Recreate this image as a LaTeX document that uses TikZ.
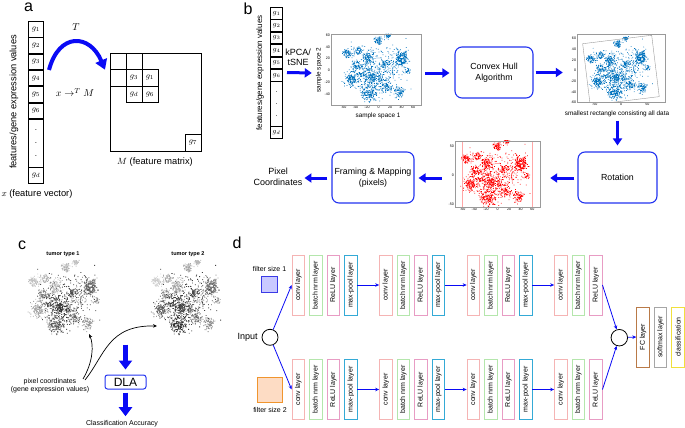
\documentclass[tikz,border=0pt]{standalone}
\usepackage{fontspec}
\setmainfont{Liberation Sans}
\usepackage{amsmath}
\usepackage{graphicx}
\usetikzlibrary{arrows.meta,positioning,calc}
\definecolor{ArrBlue}{HTML}{0A0AF5}
\definecolor{BoxBlue}{HTML}{2233F0}
\definecolor{DotBlue}{HTML}{0072BD}
\definecolor{AxGray}{HTML}{9A9A9A}
\definecolor{ConvC}{HTML}{F5B4B4}
\definecolor{BnC}{HTML}{B4E6AC}
\definecolor{ReluC}{HTML}{E89CC4}
\definecolor{PoolC}{HTML}{34AAD6}
\definecolor{FcC}{HTML}{B97A48}
\definecolor{SmC}{HTML}{A6A6A6}
\definecolor{ClsC}{HTML}{F0E03C}
\definecolor{FltA}{HTML}{C9C9FF}
\definecolor{FltAD}{HTML}{3A3AE6}
\definecolor{FltB}{HTML}{FDDCC4}
\definecolor{FltBD}{HTML}{F0952E}

\newcommand{\fsz}[1]{\fontsize{#1}{#1}\selectfont}
\newcommand{\vtxt}[1]{\rotatebox{90}{#1}}
% clustered 2-d embedding, same seed every time; one path per cluster
\newcommand{\tsnedots}[2]{%
  \pgfmathsetseed{1234}%
  \foreach \qx/\qy/\qs/\qn/\qa/\qb in {%
      -55/28/5/70/25/20, -36/33/4.5/55/30/35, -18/20/6.5/110/25/30,
      -39/7/5/70/50/45, -47/-15/7.5/140/35/60, -21/-7/9/140/70/75,
      -4/-15/9/120/80/70, -16/-38/9/170/65/80, 13/-29/6/70/55/50,
      36/-38/5.5/70/40/45, 39/21/8/190/60/55, 10/10/3.5/35/70/70,
      -1/50/4/55/30/35, 16/58/3.5/35/25/30, 25/0/11/70/60/60,
      50/-1/4/25/45/40, 0/0/24/200/70/75}{%
    \fill[#1] \foreach \qi in {1,...,\qn}{
      ({\qx+\qs*(rand+rand+rand)/1.2},{\qy+\qs*(rand+rand+rand)/1.2}) rectangle ++(#2,#2)};%
  }%
}

\begin{document}
\begin{tikzpicture}[x=1pt,y=-1pt,
    pnl/.style={font=\fsz{16}},
    gca/.style={draw,line width=0.8pt,minimum width=15.2pt,minimum height=15.5pt,inner sep=0pt,font=\fsz{8}},
    gcb/.style={draw,line width=0.8pt,minimum width=12.2pt,minimum height=11.6pt,inner sep=0pt,font=\fsz{7}},
    mcl/.style={draw,line width=0.8pt,minimum width=16pt,minimum height=16.3pt,inner sep=0pt,outer sep=0pt,font=\fsz{8}},
    blk/.style={draw=BoxBlue,line width=1.1pt,rounded corners=7pt,align=center,
      font=\fontsize{8.8}{10.5}\selectfont,minimum height=51pt,inner sep=0.5pt},
    frm/.style={draw=AxGray,line width=0.4pt,inner sep=0pt},
    tick/.style={font=\fsz{3.6},inner sep=0.8pt},
    lyr/.style={draw=#1,line width=0.8pt,minimum width=12.5pt,minimum height=60pt,inner sep=0pt,font=\fsz{7}},
    bigarr/.style={draw=ArrBlue,line width=3pt,-{Triangle[width=9pt,length=7pt]}},
    fatarr/.style={draw=ArrBlue,line width=5pt,-{Triangle[width=13pt,length=9pt]}},
    curarr/.style={draw=ArrBlue,line width=4pt,-{Triangle[width=12pt,length=10pt]}},
    tarr/.style={draw=ArrBlue,line width=0.8pt,-{Stealth[length=4pt,width=3.5pt]}},
    carr/.style={draw=black,line width=0.7pt,-{Stealth[length=4pt,width=3.5pt]}}]
  \useasboundingbox (0,0) rectangle (685,428);

  % ---- a: vector to matrix
  \node[pnl] (lbla) at (28.5,7) {a};
  \node[gca] (ga1) at (36,29.2) {$g_1$};
  \node[gca,below=0pt of ga1] (ga2) {$g_2$};
  \node[gca,below=0pt of ga2] (ga3) {$g_3$};
  \node[gca,below=0pt of ga3] (ga4) {$g_4$};
  \node[gca,below=0pt of ga4] (ga5) {$g_5$};
  \node[gca,below=0pt of ga5] (ga6) {$g_6$};
  \node[gca,below=0pt of ga6,minimum height=47.7pt] (gadt) {\shortstack{.\\[9pt].\\[9pt].}};
  \node[gca,below=0pt of gadt] (gad) {$g_d$};
  \node[font=\fsz{9.3},rotate=90] (fva) at (14,102) {features/gene expression values};
  \node[font=\fsz{9.3}] (xva) at (37,194) {$x$ (feature vector)};

  \node[mcl,minimum width=91pt,minimum height=97.5pt] (Mbx) at (155.5,102.2) {};
  \node[mcl,anchor=north west] (m11) at (Mbx.north west) {};
  \node[mcl,right=0pt of m11] (m12) {};
  \node[mcl,below=0pt of m11] (m21) {};
  \node[mcl,below=0pt of m12] (mg3) {$g_3$};
  \node[mcl,right=0pt of mg3] (mg1) {$g_1$};
  \node[mcl,below=0pt of mg3] (mgd) {$g_d$};
  \node[mcl,right=0pt of mgd] (mg6) {$g_6$};
  \node[mcl,anchor=south east] (mg7) at (Mbx.south east) {$g_7$};
  \node[font=\fsz{9.3}] (mla) at (155,162) {$M$ (feature matrix)};

  \node[font=\fsz{10}] (tla) at (76,27.5) {$T$};
  \node[font=\fsz{10}] (xtm) at (75,92.5) {$x \rightarrow^{T} M$};
  \coordinate (tS) at ($(ga3.south east)+(5,0)$);
  \coordinate (tE) at ($(m21.north west)+(-5,0)$);
  \draw[curarr] (tS) .. controls +(10,-38) and +(-15,-36) .. (tE);

  % ---- b: pipeline
  \node[pnl] (lblb) at (248,9) {b};
  \node[gcb] (gb1) at (276.5,13.2) {$g_1$};
  \node[gcb,below=0pt of gb1] (gb2) {$g_2$};
  \node[gcb,below=0pt of gb2] (gb3) {$g_3$};
  \node[gcb,below=0pt of gb3] (gb4) {$g_4$};
  \node[gcb,below=0pt of gb4] (gb5) {$g_5$};
  \node[gcb,below=0pt of gb5] (gb6) {$g_6$};
  \node[gcb,below=0pt of gb6,minimum height=44.2pt] (gbdt) {\shortstack{.\\[8pt].\\[8pt].}};
  \node[gcb,below=0pt of gbdt] (gbd) {$g_d$};
  \node[font=\fsz{8},rotate=90] (fvb) at (260,73) {features/gene expression values};
  \node[font=\fontsize{9}{10.5}\selectfont,align=center] (kpc) at (298,57.5) {kPCA/\\tSNE};

  % tsne plot
  \begin{scope}[shift={(378.5,70.4)},x=0.577pt,y=0.59pt]
    \begin{scope}
      \clip (-82.3,-58.6) rectangle (73.7,61.7);
      \tsnedots{DotBlue}{0.75pt}
    \end{scope}
    \foreach \t [count=\i] in {-60,-40,...,60}
      \node[tick,anchor=north] (tsx\i) at (\t,-59) {\t};
    \foreach \t [count=\i] in {-40,-20,...,60}
      \node[tick,anchor=east] (tsy\i) at (-82.5,\t) {\t};
  \end{scope}
  \node[frm,minimum width=90pt,minimum height=71pt] (tsne) at (376,69.5) {};
  \node[font=\fsz{6.4}] (ssx) at (378,115.5) {sample space 1};
  \node[font=\fsz{6.4},rotate=90] (ssy) at (319,70) {sample space 2};

  % rotated plot with bounding rectangle
  \begin{scope}[shift={(621,70.7)},x=0.527pt,y=0.533pt]
    \begin{scope}
      \clip (-83.5,-58.7) rectangle (83.5,68.9);
      \begin{scope}[rotate=7]
        \tsnedots{DotBlue}{0.7pt}
        \draw[AxGray,line width=0.4pt] (-66,-57) rectangle (66,59);
      \end{scope}
    \end{scope}
    \foreach \t [count=\i] in {-50,0,50}
      \node[tick,anchor=north] (rpx\i) at (\t,-59) {\t};
    \foreach \t [count=\i] in {-60,-40,...,60}
      \node[tick,anchor=east] (rpy\i) at (-83.5,\t) {\t};
  \end{scope}
  \node[frm,minimum width=88pt,minimum height=68pt] (rotp) at (621,68) {};

  % framed red plot
  \begin{scope}[shift={(497.5,175.5)},x=0.58pt,y=0.576pt]
    \begin{scope}
      \clip (-73.3,-54.7) rectangle (73.3,59.9);
      \tsnedots{red}{0.75pt}
    \end{scope}
    \draw[red!35,line width=0.5pt] (-60,-54.7) -- (-60,59.9);
    \draw[red!35,line width=0.5pt] (60,-54.7) -- (60,59.9);
    \foreach \t [count=\i] in {-60,-40,...,60}
      \node[tick,anchor=north] (rdx\i) at (\t,-55) {\t};
    \foreach \t [count=\i] in {-50,0,50}
      \node[tick,anchor=east] (rdy\i) at (-73.5,\t) {\t};
  \end{scope}
  \node[frm,minimum width=85pt,minimum height=66pt] (redp) at (497.5,174) {};

  \node[blk,minimum width=78pt] (hull) at (494,72.5) {Convex Hull\\Algorithm};
  \node[font=\fsz{6.4}] (rlab) at (617,114) {smallest rectangle consisting all data};
  \node[blk,minimum width=79pt] (rot) at (617.5,177.5) {Rotation};
  \node[blk,minimum width=82pt] (frmg) at (373,177.5) {Framing \& Mapping\\(pixels)};
  \node[font=\fontsize{9}{10.5}\selectfont,align=center] (pix) at (278,177) {Pixel\\Coordinates};

  \draw[bigarr] ($(gb6.north east)+(4,3.5)$) -- ($(tsne.west)+(-19,3.5)$);
  \draw[bigarr] ($(tsne.east)+(4,3.5)$) -- ($(hull.west)+(-5,0.5)$);
  \draw[bigarr] ($(hull.east)+(2,0)$) -- ($(rotp.west)+(-14,4.5)$);
  \draw[bigarr] (rlab.south -| rot.north) -- ($(rot.north)+(0,-6)$);
  \draw[bigarr] ($(rot.west)+(-3,0.5)$) -- ($(redp.east)+(10,4)$);
  \draw[bigarr] ($(redp.west)+(-13,4)$) -- ($(frmg.east)+(4,0.5)$);
  \draw[bigarr] ($(frmg.west)+(-4,0.5)$) -- ($(frmg.west)+(-27,0.5)$);

  % ---- c: tumor images into DLA
  \node[pnl] (lblc) at (22,245) {c};
  \node[font=\bfseries\fsz{5.5}] (tt1) at (63,254) {tumor type 1};
  \node[font=\bfseries\fsz{5.5}] (tt2) at (188,254) {tumor type 2};
  \begin{scope}[shift={(66,300)},x=0.6pt,y=0.64pt]
    \tsnedots{black!\qa}{0.85pt}
  \end{scope}
  \begin{scope}[shift={(188,300)},x=0.58pt,y=0.64pt]
    \tsnedots{black!\qb}{0.85pt}
  \end{scope}
  \node[font=\fontsize{7}{8}\selectfont,align=center] (pc) at (50,386) {pixel coordinates\\(gene expression values)};
  \node[draw=BoxBlue,line width=1pt,rounded corners=2.5pt,minimum width=41pt,minimum height=14pt,
    inner sep=0pt,font=\fsz{12}] (dla) at (125.5,382) {DLA};
  \node[font=\fsz{7}] (acc) at (122,424) {Classification Accuracy};
  \draw[fatarr] ($(dla.north)+(0,-30)$) -- ($(dla.north)+(0,-5)$);
  \draw[fatarr] ($(dla.south)+(0,3)$) -- ($(dla.south |- acc.north)+(0,-1)$);
  \coordinate (c1s) at (83,379);
  \coordinate (c1e) at (89,334);
  \coordinate (c2s) at (85,380);
  \coordinate (c2e) at (157,326);
  \draw[carr] (c1s) .. controls (93,362) and (94,345) .. (c1e);
  \draw[carr] (c2s) .. controls (105,355) and (108,325) .. (c2e);

  % ---- d: two-branch CNN
  \node[pnl] (lbld) at (237,243) {d};
  \node[draw=FltAD,fill=FltA,line width=0.8pt,minimum size=16pt,inner sep=0pt] (fs1) at (269.5,284.5) {};
  \node[font=\fsz{7},above=1pt of fs1] (fs1t) {filter size 1};
  \node[draw=FltBD,fill=FltB,line width=0.8pt,minimum size=25pt,inner sep=0pt] (fs2) at (270,389.5) {};
  \node[font=\fsz{7},below=1.5pt of fs2] (fs2t) {filter size 2};
  \node[draw,circle,line width=0.8pt,minimum size=16pt,inner sep=0pt] (inp) at (270,337.3) {};
  \node[font=\fsz{9},left=0.5pt of inp] (inl) {Input};
  \node[draw,circle,line width=0.8pt,minimum size=16.5pt,inner sep=0pt] (mrg) at (619.3,337.7) {};

  \foreach \r/\ry in {t/285,b/389.5}{
    \foreach \k/\gx in {1/298.3,2/385.8,3/473.3,4/560.8}{
      \node[lyr=ConvC] (cv\k\r) at (\gx,\ry) {\vtxt{conv layer}};
      \node[lyr=BnC,right=4.2pt of cv\k\r] (bn\k\r) {\vtxt{batch nrm layer}};
      \node[lyr=ReluC,right=4.2pt of bn\k\r] (rl\k\r) {\vtxt{ReLU layer}};
    }
    \foreach \k in {1,2,3}
      \node[lyr=PoolC,right=4.2pt of rl\k\r] (mp\k\r) {\vtxt{max-pool layer}};
  }
  \draw[tarr] (mp1t.east) -- (cv2t.west);
  \draw[tarr] (mp2t.east) -- (cv3t.west);
  \draw[tarr] (mp3t.east) -- (cv4t.west);
  \draw[tarr] (mp1b.east) -- (cv2b.west);
  \draw[tarr] (mp2b.east) -- (cv3b.west);
  \draw[tarr] (mp3b.east) -- (cv4b.west);

  \node[lyr=FcC] (fc) at (643,337) {\vtxt{FC layer}};
  \node[lyr=SmC,right=4.2pt of fc] (smx) {\vtxt{softmax layer}};
  \node[lyr=ClsC,right=4.2pt of smx] (cls) {\vtxt{classification}};

  \draw[tarr] (inp) -- (cv1t.west);
  \draw[tarr] (inp) -- (cv1b.west);
  \draw[tarr] (rl4t.east) -- (mrg);
  \draw[tarr] (rl4b.east) -- (mrg);
  \draw[tarr] (mrg) -- (fc.west);
\end{tikzpicture}
\end{document}
